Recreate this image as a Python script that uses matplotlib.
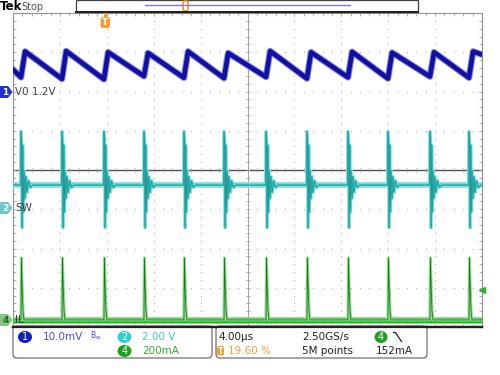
import numpy as np
import matplotlib.pyplot as plt
from matplotlib import font_manager
from matplotlib.patches import FancyBboxPatch, Polygon, Ellipse, Rectangle

# ---- screen settings ----
us_per_div = 4.0
n_hdiv, n_vdiv = 10, 8

# switching edges (µs from left edge of screen)
edge_us = [0.68, 4.18, 7.76, 11.17, 14.58, 18.0, 21.58, 25.07, 28.57, 31.98, 35.56, 38.89]

# ch1  VO, 10 mV/div, offset 1.2 V, marker at +2 div
vo_mv_div = 10.0
vo_pos_div = 2.0
vo_start_mv = 5.6
vo_valley_mv = [3.6, 3.2, 3.1, 3.9, 3.5, 3.4, 3.7, 3.3, 3.6, 3.3, 3.8, 3.5]
vo_peak_mv = [10.2, 10.3, 10.0, 9.8, 10.2, 9.8, 10.3, 10.0, 10.1, 9.9, 10.0, 10.2]
vo_end_mv = 9.4
vo_rise_us = 0.35

# ch2  SW, 2 V/div, marker at -1 div
sw_v_div = 2.0
sw_pos_div = -0.97
sw_base_v = 1.17
sw_pulse_dt = [-0.03, 0.0, 0.05, 0.1, 0.14, 0.2, 0.26, 0.34, 0.42, 0.52, 0.64, 0.8, 1.0]
sw_pulse_v = [1.17, 3.9, 3.5, -1.0, 3.2, -0.2, 1.9, 0.5, 1.6, 0.8, 1.4, 1.05, 1.17]

# ch4  IL, 200 mA/div, marker at -3.82 div
il_ma_div = 200.0
il_pos_div = -3.82
il_pulse_dt = [-0.02, 0.0, 0.04, 0.1, 0.18, 0.26]
il_pulse_ma = [0, 0, 316, 170, 40, 0]
trig_ma = 152

narrow = 'Liberation Sans Narrow'
names = {f.name for f in font_manager.fontManager.ttflist}
ui_font = [narrow, 'DejaVu Sans'] if narrow in names else ['DejaVu Sans']
plt.rcParams['font.family'] = ui_font


def pulses(dts, vals, base):
    t, v = [0.0], [base]
    for e in edge_us:
        t += [e + d for d in dts]
        v += list(vals)
    t.append(n_hdiv * us_per_div)
    v.append(base)
    return np.array(t), np.array(v)


# VO sawtooth knots
vo_t, vo_v = [0.0], [vo_start_mv]
for e, lo, hi in zip(edge_us, vo_valley_mv, vo_peak_mv):
    vo_t += [e, e + vo_rise_us]
    vo_v += [lo, hi]
vo_t.append(n_hdiv * us_per_div)
vo_v.append(vo_end_mv)
vo_div = vo_pos_div + np.array(vo_v) / vo_mv_div

sw_t, sw_v = pulses(sw_pulse_dt, sw_pulse_v, sw_base_v)
sw_div = sw_pos_div + sw_v / sw_v_div
il_t, il_v = pulses(il_pulse_dt, il_pulse_ma, 0)
il_div = il_pos_div + il_v / il_ma_div

W, H = 500, 375
fig = plt.figure(figsize=(5, 3.75), dpi=100)
fig.patch.set_facecolor('white')

# graticule area in pixels: x 13..482, y 13..327
ax = fig.add_axes([13 / W, (H - 327) / H, 469 / W, 314 / H])
xmax = n_hdiv * us_per_div
ax.set_xlim(0, xmax)
ax.set_ylim(-n_vdiv / 2, n_vdiv / 2)
ax.set_facecolor('white')

grid_c = '#a0a0a0'
for k in range(1, n_hdiv):
    if k == n_hdiv // 2:
        continue
    ys = np.arange(-4, 4.01, 0.2)
    ax.scatter(np.full_like(ys, k * us_per_div), ys, s=0.6, color=grid_c, lw=0, zorder=1)
for k in range(1, n_vdiv):
    if k == n_vdiv // 2:
        continue
    xs = np.arange(0, xmax + 0.01, us_per_div / 5)
    ax.scatter(xs, np.full_like(xs, k - 4.0), s=0.6, color=grid_c, lw=0, zorder=1)

# centre cross
ax.axhline(0, color='#505050', lw=1.0, zorder=1)
ax.axvline(xmax / 2, color='#a0a0a0', lw=0.7, zorder=1)
xs = np.arange(0, xmax + 0.01, us_per_div / 5)
ax.plot(xs, np.zeros_like(xs), ls='none', marker='|', ms=3, mew=0.6, color=grid_c, zorder=1)
ys = np.arange(-4, 4.01, 0.2)
ax.plot(np.full_like(ys, xmax / 2), ys, ls='none', marker='_', ms=3, mew=0.6, color=grid_c, zorder=1)

ax.set_xticks(np.arange(0, xmax + 0.01, us_per_div / 5))
ax.set_yticks(np.arange(-4, 4.01, 0.2))
ax.tick_params(direction='in', length=2.5, width=0.6, color=grid_c,
               top=True, right=True, labelbottom=False, labelleft=False)
for s in ax.spines.values():
    s.set_color('#909090')
    s.set_linewidth(0.8)
ax.spines['bottom'].set_color('#202020')
ax.spines['bottom'].set_linewidth(1.6)

# ch1 VO
ax.plot(vo_t, vo_div, color='#8c8ce4', lw=4.8, solid_joinstyle='round', zorder=3)
ax.plot(vo_t, vo_div, color='#1010a4', lw=3.3, solid_joinstyle='round', zorder=3)

# ch2 SW: baseline band + thin spikes
sw_base_div = sw_pos_div + sw_base_v / sw_v_div
ax.plot([0, xmax], [sw_base_div, sw_base_div], color='#a6e4e4', lw=4.4, zorder=3)
ax.plot([0, xmax], [sw_base_div, sw_base_div], color='#14c6c6', lw=3.0, zorder=3)
ax.plot(sw_t, sw_div, color='#a4e2e2', lw=2.6, zorder=3)
ax.plot(sw_t, sw_div, color='#26c4c4', lw=1.3, zorder=3)
ax.plot(sw_t, sw_div, color='#2a8e8e', lw=0.4, zorder=3)

# ch4 IL: baseline band + thin spikes
il_base_div = il_pos_div
ax.plot([0, xmax], [il_base_div, il_base_div], color='#9ad89a', lw=5.0, zorder=3)
ax.plot([0, xmax], [il_base_div, il_base_div], color='#0cc00c', lw=3.6, zorder=3)
ax.plot(il_t, il_div, color='#9ad89a', lw=2.2, zorder=3)
ax.plot(il_t, il_div, color='#0a800a', lw=0.6, zorder=3)

# trigger level on ch4
ax.plot([xmax], [il_pos_div + trig_ma / il_ma_div], marker='<', ms=5,
        color='#30b030', clip_on=False, zorder=4)

# ---- scope UI overlay in pixel coordinates ----
ui = fig.add_axes([0, 0, 1, 1], zorder=5)
ui.set_xlim(0, W)
ui.set_ylim(H, 0)
ui.axis('off')
ui.patch.set_alpha(0)

ui.text(0, 6.5, 'Tek', fontsize=8.5, fontweight='bold', va='center', ha='left',
        family=['DejaVu Sans'])
ui.text(21, 6.5, 'Stop', fontsize=7, color='#505050', va='center', ha='left')
ui.add_patch(Rectangle((76, 0), 342, 12, facecolor='white', edgecolor='#404040', lw=0.9))
ui.plot([76, 418], [12, 12], color='#202020', lw=1.4)
ui.plot([145, 350], [5, 5], color='#7878e0', lw=1.0)
ui.add_patch(FancyBboxPatch((183, 1), 5, 10, boxstyle='round,pad=0,rounding_size=2',
                            facecolor='none', edgecolor='#f0a030', lw=1.2))

# trigger position marker
ui.add_patch(Rectangle((104, 13), 3, 4, facecolor='#f0a030', lw=0))
ui.add_patch(FancyBboxPatch((100.5, 17), 9.5, 11, boxstyle='round,pad=0,rounding_size=2.5',
                            facecolor='#f0a030', lw=0))
ui.text(105.3, 22.8, 'T', fontsize=6.5, color='white', fontweight='bold', ha='center', va='center')

# channel markers on the left
markers = [
    (92, '1', '#2030d0', 'white', 'V0 1.2V'),
    (208, '2', '#6cc8c8', 'white', 'SW'),
    (320, '4', '#84c484', '#1a6a1a', 'IL'),
]
for y, num, fc, tc, label in markers:
    ui.add_patch(Polygon([(0, y - 6), (8, y - 6), (12.5, y), (8, y + 6), (0, y + 6)],
                         closed=True, facecolor=fc, edgecolor='none'))
    ui.text(5.5, y + 0.3, num, fontsize=6.5, color=tc, ha='center', va='center', fontweight='bold')
    ui.text(15, y, label, fontsize=7.5, color='#404040', ha='left', va='center')

# bottom readout boxes
for x0, x1 in [(13, 212), (216, 427)]:
    ui.add_patch(FancyBboxPatch((x0, 326), x1 - x0, 32, boxstyle='round,pad=0,rounding_size=4',
                                facecolor='white', edgecolor='#707070', lw=0.9))
ui.plot([13, 482], [327, 327], color='#202020', lw=1.6)


def pill(x, y, num, fc, w=14):
    ui.add_patch(Ellipse((x, y), w, 12, facecolor=fc, edgecolor='none'))
    ui.text(x, y + 0.3, num, fontsize=7, color='white', ha='center', va='center')


fs = 7.5
pill(25, 337, '1', '#1020c0')
ui.text(43, 337, '10.0mV', fontsize=fs, color='#4a4ae0', va='center')
ui.text(90, 336, r'$\mathregular{B_w}$', fontsize=5.5, color='#4a4ae0', va='center')
pill(124.5, 337, '2', '#30d0d0')
ui.text(142, 337, '2.00 V', fontsize=fs, color='#40c8c8', va='center')
pill(124.5, 351, '4', '#20a020')
ui.text(142, 351, '200mA', fontsize=fs, color='#30a830', va='center')

ui.text(218, 337, '4.00µs', fontsize=fs, color='#202020', va='center')
ui.add_patch(FancyBboxPatch((217, 346), 7, 9.5, boxstyle='round,pad=0,rounding_size=1.5',
                            facecolor='#f0a030', lw=0))
ui.text(220.5, 351, 'T', fontsize=5.5, color='white', ha='center', va='center', fontweight='bold')
ui.text(228, 351, '19.60 %', fontsize=fs, color='#f0a030', va='center')
ui.text(302.5, 337, '2.50GS/s', fontsize=fs, color='#202020', va='center')
ui.text(302.5, 351, '5M points', fontsize=fs, color='#202020', va='center')
pill(381, 337, '4', '#20a020', w=13)
ui.plot([393.5, 395.5, 401.5], [332.5, 332.5, 341.5], color='#202020', lw=0.9)
ui.text(376, 351, '152mA', fontsize=fs, color='#202020', va='center')

fig.savefig('out.png', dpi=100)
